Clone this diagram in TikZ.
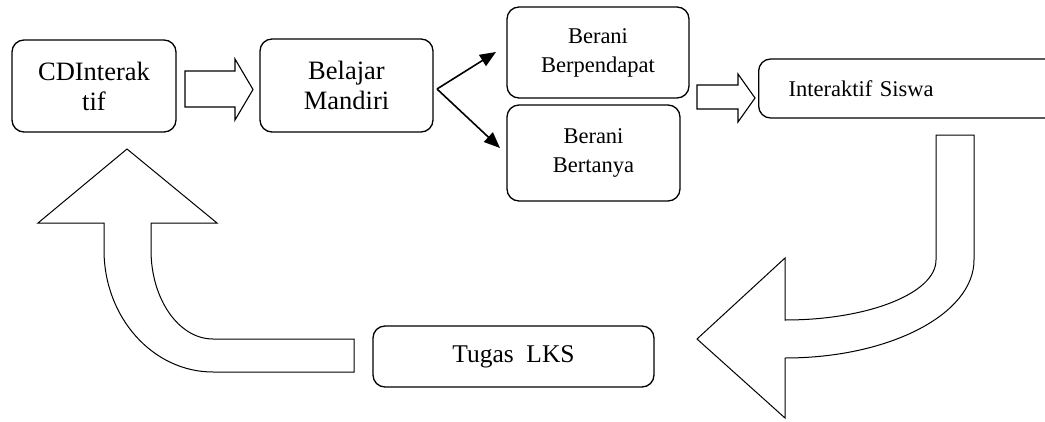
\documentclass[tikz,border=0pt]{standalone}
\usepackage{fontspec}
\setmainfont{Liberation Serif}
\usetikzlibrary{arrows.meta}
\begin{document}
\begin{tikzpicture}[x=1pt,y=-1pt,
  box/.style={draw, line width=1.3pt, rounded corners=12pt, align=center, inner sep=0pt},
  bigf/.style={font=\fontsize{26.5}{30}\selectfont},
  midf/.style={font=\fontsize{22.5}{29}\selectfont},
  blockarrow/.style={draw, line width=1.1pt, fill=white, line join=miter},
  thin/.style={line width=1.6pt, -{Triangle[length=16pt,width=13pt]}}]
\useasboundingbox (0,0) rectangle (1045,421);
% boxes
\node[box, bigf, minimum width=164, minimum height=92] (cd) at (94,86) {CDInterak\\tif};
\node[box, bigf, minimum width=173, minimum height=93] (bm) at (346.5,85.5) {Belajar\\Mandiri};
\node[box, midf, minimum width=182, minimum height=91] (bp) at (598,52.5) {Berani\\Berpendapat};
\node[box, midf, minimum width=173, minimum height=96] (bt) at (593.5,153) {Berani\\Bertanya};
\node[box, midf, anchor=west, text width=240, align=left, inner xsep=30, minimum height=59] (is) at (758,88.5) {Interaktif Siswa};
\node[box, font=\fontsize{25.5}{30}\selectfont, minimum width=281, minimum height=61] (tl) at (513.5,356.5) {Tugas~~LKS};
% block arrows
\draw[blockarrow] (185,71) -- (235,71) -- (235,59) -- (253,89.5) -- (235,120) -- (235,107) -- (185,107) -- cycle;
\draw[blockarrow] (697,85) -- (738,85) -- (738,74) -- (755,98) -- (738,122) -- (738,109) -- (697,109) -- cycle;
% fork arrows
\coordinate (fork) at (437,89);
\coordinate (t1) at (496,52);
\coordinate (t2) at (500,148);
\draw[thin] (fork) -- (t1);
\draw[thin] (fork) -- (t2);
% big curved arrows
\draw[blockarrow, line width=1pt] (974,135) -- (974,260) arc[start angle=0, end angle=90, x radius=189, y radius=98]
  -- (785,418) -- (697,339) -- (785,258) -- (785,320)
  arc[start angle=90, end angle=0, x radius=151, y radius=60] -- (936,135) -- cycle;
\draw[blockarrow, line width=1pt] (354,339) -- (213,339) arc[start angle=90, end angle=180, x radius=62, y radius=89]
  -- (151,223) -- (217,223) -- (127,149) -- (38,223) -- (104,223) -- (104,250)
  arc[start angle=180, end angle=90, x radius=109, y radius=122] -- (354,372) -- cycle;
\end{tikzpicture}
\end{document}
